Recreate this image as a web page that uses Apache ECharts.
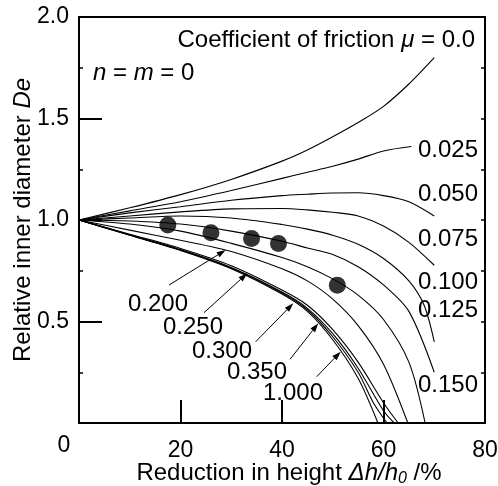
<!DOCTYPE html>
<html>
<head>
<meta charset="utf-8">
<script src="https://cdn.jsdelivr.net/npm/echarts@6/dist/echarts.min.js"></script>
<style>
html, body { margin: 0; padding: 0; background: #fff; }
#chart { width: 498px; height: 486px; }
</style>
</head>
<body>
<div id="chart"></div>
<script>
// friction coefficients, one curve each
var muLabels = ['0.0', '0.025', '0.050', '0.075', '0.100', '0.125', '0.150', '0.200', '0.250', '0.300', '0.350', '1.000'];

// reduction in height (%) , relative inner diameter De
var curveMu000 = [[0,1],[10,1.06],[20,1.125],[30,1.2],[40,1.29],[45,1.345],[50,1.41],[55,1.48],[60,1.56],[65,1.67],[70,1.8]];
var curveMu025 = [[0,1],[10,1.045],[20,1.09],[30,1.145],[40,1.205],[45,1.235],[50,1.265],[55,1.3],[60,1.34],[65.5,1.362]];
var curveMu050 = [[0,1],[10,1.035],[20,1.065],[30,1.097],[40,1.12],[45,1.127],[50,1.133],[55,1.134],[60,1.12],[65,1.09],[70,1.02]];
var curveMu075 = [[0,1],[10,1.02],[20,1.04],[30,1.055],[40,1.057],[45,1.05],[50,1.038],[55,1.02],[60,0.97],[65,0.89],[70,0.777]];
var curveMu100 = [[0,1],[10,1.01],[20,1.02],[30,1.01],[40,0.978],[45,0.955],[50,0.925],[55,0.88],[60,0.81],[65,0.7],[68,0.58],[70,0.4]];
var curveMu125 = [[0,1],[10,0.995],[20,0.98],[30,0.945],[40,0.895],[45,0.862],[50,0.83],[55,0.77],[60,0.68],[65,0.55],[70,0.25]];
var curveMu150 = [[0,1],[10,0.98],[20,0.945],[30,0.885],[40,0.815],[45,0.77],[50,0.71],[55,0.63],[60,0.51],[65,0.3],[68.2,0]];
var curveMu200 = [[0,1],[10,0.95],[20,0.9],[30,0.845],[40,0.76],[45,0.7],[50,0.61],[55,0.48],[60,0.29],[64.8,0]];
var curveMu250 = [[0,1],[10,0.93],[20,0.86],[30,0.775],[40,0.655],[45,0.58],[50,0.46],[55,0.3],[60,0.1],[62.9,0]];
var curveMu300 = [[0,1],[10,0.927],[20,0.854],[30,0.766],[40,0.645],[45,0.565],[50,0.44],[55,0.27],[60,0.06],[62.1,0]];
var curveMu350 = [[0,1],[10,0.926],[20,0.852],[30,0.763],[40,0.64],[45,0.558],[50,0.425],[55,0.25],[58,0.1],[60.7,0]];
var curveMu1000 = [[0,1],[10,0.925],[20,0.85],[30,0.76],[40,0.635],[45,0.55],[50,0.41],[55,0.22],[58.9,0]];

// measured points
var testReduction = [17.5, 26, 34, 39.3, 50.9];
var testDiameter = [0.975, 0.937, 0.909, 0.884, 0.679];

var xTickValues = [0, 20, 40, 60, 80];
var yTickValues = [0, 0.5, 1.0, 1.5, 2.0];

var allCurves = [curveMu000, curveMu025, curveMu050, curveMu075, curveMu100, curveMu125,
	curveMu150, curveMu200, curveMu250, curveMu300, curveMu350, curveMu1000];

var FONT = 'Liberation Sans, Arial, sans-serif';
var FS = 23;   // tick labels
var FA = 24;   // annotations and axis names

function initCurveSeries(name, data) {
	return {
		name : name,
		type : 'line',
		data : data,
		symbol : 'none',
		smooth : 0.3,
		xAxisIndex : 0,
		yAxisIndex : 0,
		silent : true,
		lineStyle : { color : '#000', width : 1.1 }
	};
}

function textItem(str, x, y, align) {
	return {
		type : 'text',
		x : x,
		y : y,
		style : {
			text : str,
			fill : '#000',
			font : FA + 'px ' + FONT,
			align : align || 'center',
			verticalAlign : 'middle'
		}
	};
}

// line with filled head at (x2, y2)
function arrowItem(x1, y1, x2, y2) {
	var ang = Math.atan2(y2 - y1, x2 - x1);
	var len = 9, half = 3;
	var bx = x2 - len * Math.cos(ang), by = y2 - len * Math.sin(ang);
	var px = -Math.sin(ang) * half, py = Math.cos(ang) * half;
	return [{
		type : 'line',
		shape : { x1 : x1, y1 : y1, x2 : bx, y2 : by },
		style : { stroke : '#000', lineWidth : 1 }
	}, {
		type : 'polygon',
		shape : { points : [[x2, y2], [bx + px, by + py], [bx - px, by - py]] },
		style : { fill : '#000' }
	}];
}

var seriesList = [];
for (var i = 0; i < allCurves.length; i++) {
	seriesList.push(initCurveSeries(muLabels[i], allCurves[i]));
}
var testData = [];
for (var k = 0; k < testReduction.length; k++) {
	testData.push([testReduction[k], testDiameter[k]]);
}
seriesList.push({
	name : 'test',
	type : 'scatter',
	data : testData,
	symbol : 'circle',
	symbolSize : 17,
	itemStyle : { color : '#000' },
	silent : true,
	z : 5
});

var graphics = [
	{
		type : 'text',
		x : 64,
		y : 446,
		style : { text : '0', fill : '#000', font : FS + 'px ' + FONT, align : 'center', verticalAlign : 'middle' }
	},
	{
		type : 'text',
		x : 475,
		y : 40,
		style : {
			text : 'Coefficient of friction {i|\u03bc} = 0.0',
			fill : '#000',
			font : FA + 'px ' + FONT,
			align : 'right',
			verticalAlign : 'middle',
			rich : { i : { fontStyle : 'italic', fontSize : FA, fontFamily : FONT } }
		}
	},
	{
		type : 'text',
		x : 93,
		y : 73,
		style : {
			text : '{i|n} = {i|m} = 0',
			fill : '#000',
			font : FA + 'px ' + FONT,
			align : 'left',
			verticalAlign : 'middle',
			rich : { i : { fontStyle : 'italic', fontSize : FA, fontFamily : FONT } }
		}
	},
	textItem('0.025', 448, 150),
	textItem('0.050', 448, 194),
	textItem('0.075', 448, 239),
	textItem('0.100', 448, 282),
	textItem('0.125', 448, 310),
	textItem('0.150', 448, 385),
	textItem('0.200', 158, 304),
	textItem('0.250', 193, 327),
	textItem('0.300', 222, 351),
	textItem('0.350', 257, 372),
	textItem('1.000', 293, 393)
];
graphics = graphics.concat(arrowItem(169, 285, 225.7, 250));
graphics = graphics.concat(arrowItem(204, 312.7, 247.3, 273.3));
graphics = graphics.concat(arrowItem(255.7, 341.7, 293.3, 303.3));
graphics = graphics.concat(arrowItem(290, 359.3, 318.3, 323.3));
graphics = graphics.concat(arrowItem(316.7, 376.7, 340.7, 351.7));

var axisLineStyle = { show : true, onZero : false, lineStyle : { color : '#000', width : 2 } };

var option = {
	animation : false,
	backgroundColor : '#fff',
	grid : { left : 79, right : 13, top : 17, bottom : 63, containLabel : false, outerBoundsMode : 'none' },
	xAxis : [{
		type : 'value',
		position : 'bottom',
		min : 0,
		max : 80,
		interval : 20,
		axisLine : axisLineStyle,
		axisTick : { show : true, inside : true, length : 23, lineStyle : { color : '#000', width : 2 } },
		axisLabel : {
			show : true,
			margin : 16,
			color : '#000',
			fontSize : FS,
			fontFamily : FONT,
			formatter : function (v) { return v === 0 ? '' : String(v); }
		},
		splitLine : { show : false },
		name : 'Reduction in height {i|\u0394h/h}{s|0} /%',
		nameLocation : 'middle',
		nameGap : 36,
		nameMoveOverlap : false,
		nameTextStyle : {
			color : '#000',
			fontSize : FA,
			fontFamily : FONT,
			padding : [0, 0, 0, 14],
			rich : {
				i : { fontStyle : 'italic', fontSize : FA, fontFamily : FONT, color : '#000' },
				s : { fontStyle : 'italic', fontSize : 16, fontFamily : FONT, color : '#000', padding : [12, 0, 0, 0] }
			}
		}
	}, {
		type : 'value',
		position : 'top',
		min : 0,
		max : 80,
		axisLine : axisLineStyle,
		axisTick : { show : false },
		axisLabel : { show : false },
		splitLine : { show : false }
	}],
	yAxis : [{
		type : 'value',
		position : 'left',
		min : 0,
		max : 2,
		interval : 0.5,
		axisLine : axisLineStyle,
		axisTick : { show : true, inside : true, length : 23, lineStyle : { color : '#000', width : 2 } },
		minorTick : { show : true, splitNumber : 2, length : 4, lineStyle : { color : '#000', width : 1.5 } },
		axisLabel : {
			show : true,
			margin : 10,
			color : '#000',
			fontSize : FS,
			fontFamily : FONT,
			formatter : function (v) { return v === 0 ? '' : v.toFixed(1); }
		},
		splitLine : { show : false },
		name : 'Relative inner diameter {i|De}',
		nameLocation : 'middle',
		nameRotate : 90,
		nameGap : 44,
		nameMoveOverlap : false,
		nameTextStyle : {
			color : '#000',
			fontSize : FA,
			fontFamily : FONT,
			rich : { i : { fontStyle : 'italic', fontSize : FA, fontFamily : FONT, color : '#000' } }
		}
	}, {
		type : 'value',
		position : 'right',
		min : 0,
		max : 2,
		interval : 0.25,
		axisLine : axisLineStyle,
		axisTick : { show : true, inside : true, length : 4, lineStyle : { color : '#000', width : 1.5 } },
		axisLabel : { show : false },
		splitLine : { show : false }
	}],
	graphic : graphics,
	series : seriesList
};

var myChart = echarts.init(document.getElementById('chart'));
myChart.setOption(option, true);
</script>
</body>
</html>
